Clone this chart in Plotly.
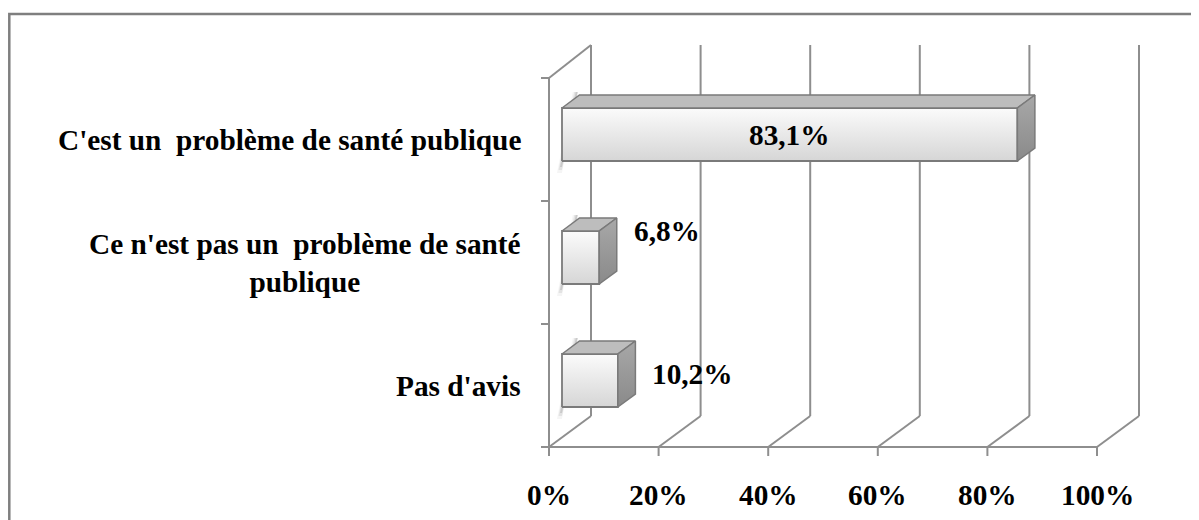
import plotly.graph_objects as go

# ---------------- data ----------------
categories = ["Pas d'avis",
              "Ce n'est pas un\u00a0 problème de santé<br>publique",
              "C'est un\u00a0 problème de santé publique"]
values = [10.2, 6.8, 83.1]
value_labels = ["10,2%", "6,8%", "83,1%"]
tick_values = [0, 20, 40, 60, 80, 100]
tick_labels = ["0%", "20%", "40%", "60%", "80%", "100%"]

# ---------------- geometry (pixel calibration of the oblique 3D look) ----------------
PAGE_OFF = 8                       # default body margin of the html page
W, H = 1199 - PAGE_OFF, 520 - PAGE_OFF
PX0 = 549.0 - PAGE_OFF             # pixel x of 0 %
PXS = 5.48                         # pixels per %
PY_BOTTOM = 447.0 - PAGE_OFF       # pixel y of lower edge of first category band
PY_BAND = 123.0                    # pixels per category band
n = len(categories)

def dx(px):   # pixel distance -> x data units
    return px / PXS

def dy(px):   # pixel distance -> y data units (positive = up)
    return px / PY_BAND

x_range = [-PX0 / PXS, (W - PX0) / PXS]
y_range = [(PY_BOTTOM - H) / PY_BAND - 0.5, PY_BOTTOM / PY_BAND - 0.5]

DEPTH_X, DEPTH_Y = dx(42), dy(31)      # floor/wall depth
FRONT_X, FRONT_Y = dx(13), dy(5)       # bar front-face offset inside the depth
BAR_DX, BAR_DY = dx(17.5), dy(13)      # bar depth
BAR_H = dy(53)                         # bar thickness

GRID = "#8e8e8e"
EDGE = "#7a7a7a"
FONT = dict(family="Liberation Serif", size=29.3, color="black", weight="bold")

fig = go.Figure()
shapes = []

def seg(x0, y0, x1, y1, color=GRID, width=2):
    shapes.append(dict(type="line", xref="x", yref="y", x0=x0, y0=y0, x1=x1, y1=y1,
                       line=dict(color=color, width=width), layer="below"))

y_lo, y_hi = -0.5, n - 0.5
# back wall vertical gridlines + floor diagonals + ticks under front axis
for v in tick_values:
    seg(v + DEPTH_X, y_lo + DEPTH_Y, v + DEPTH_X, y_hi + DEPTH_Y + dy(2))
    seg(v, y_lo, v + DEPTH_X, y_lo + DEPTH_Y)
    seg(v, y_lo, v, y_lo - dy(9))
# front axis line
seg(0, y_lo, 100, y_lo)
# left wall
seg(0, y_lo, 0, y_hi)
seg(0, y_hi, DEPTH_X, y_hi + DEPTH_Y + dy(2))
for k in range(n + 1):
    seg(0, y_lo + k, -dx(8), y_lo + k)

# ---------------- 3D bars ----------------
for i, v in enumerate(values):
    x0 = FRONT_X
    x1 = v + FRONT_X
    yb = i - BAR_H / 2 + FRONT_Y
    yt = i + BAR_H / 2 + FRONT_Y
    # soft shadow on the left side
    for k, a in enumerate([0.04, 0.07, 0.11]):
        off = dx(5 - 1.5 * k)
        fig.add_trace(go.Scatter(
            x=[x0 - off, x0, x0 + BAR_DX * 0.9, x0 + BAR_DX * 0.9 - off, x0 - off],
            y=[yb - dy(12 - 3 * k), yb - dy(12 - 3 * k), yt + BAR_DY + dy(3), yt + BAR_DY + dy(3), yb - dy(12 - 3 * k)],
            mode="lines", fill="toself", fillcolor=f"rgba(0,0,0,{a})",
            line=dict(width=0), hoverinfo="skip", showlegend=False))
    # front face with vertical gradient
    fig.add_trace(go.Scatter(
        x=[x0, x1, x1, x0, x0], y=[yb, yb, yt, yt, yb],
        mode="lines", fill="toself",
        fillgradient=dict(type="vertical", colorscale=[[0, "#d6d6d6"], [1, "#fbfbfb"]]),
        line=dict(color=EDGE, width=1.8), hoverinfo="skip", showlegend=False))
    # top face
    fig.add_trace(go.Scatter(
        x=[x0, x1, x1 + BAR_DX, x0 + BAR_DX, x0],
        y=[yt, yt, yt + BAR_DY, yt + BAR_DY, yt],
        mode="lines", fill="toself", fillcolor="#bdbdbd",
        line=dict(color=EDGE, width=1.5), hoverinfo="skip", showlegend=False))
    # right side face
    fig.add_trace(go.Scatter(
        x=[x1, x1 + BAR_DX, x1 + BAR_DX, x1, x1],
        y=[yb, yb + BAR_DY, yt + BAR_DY, yt, yb],
        mode="lines", fill="toself",
        fillgradient=dict(type="vertical", colorscale=[[0, "#8a8a8a"], [1, "#a8a8a8"]]),
        line=dict(color=EDGE, width=1.5), hoverinfo="skip", showlegend=False))

annotations = []
# category labels
for i, c in enumerate(categories):
    annotations.append(dict(x=-dx(26), y=i, xref="x", yref="y", text=c, showarrow=False,
                            xanchor="right", yanchor="middle", align="center", font=FONT))
# value labels (pixel nudges for the outside labels)
label_dy_px = [-12, -32, 0]
for i, (v, t) in enumerate(zip(values, value_labels)):
    if v > 50:
        annotations.append(dict(x=FRONT_X + v / 2, y=i + FRONT_Y, xref="x", yref="y", text=t,
                                showarrow=False, xanchor="center", yanchor="middle", font=FONT))
    else:
        annotations.append(dict(x=v + FRONT_X + BAR_DX + dx(15), y=i - dy(label_dy_px[i]),
                                xref="x", yref="y", text=t, showarrow=False,
                                xanchor="left", yanchor="middle", font=FONT))
# x tick labels
for v, t in zip(tick_values, tick_labels):
    annotations.append(dict(x=v, y=y_lo - dy(48), xref="x", yref="y", text=t, showarrow=False,
                            xanchor="center", yanchor="middle", font=FONT))

# outer chart border
shapes.append(dict(type="rect", xref="paper", yref="paper",
                   x0=1.3 / W, x1=1.02, y0=-0.05, y1=1 - 6 / H,
                   line=dict(color="#7f7f7f", width=2.5), fillcolor="rgba(0,0,0,0)"))

fig.update_layout(
    width=W, height=H, autosize=False,
    margin=dict(l=0, r=0, t=0, b=0, pad=0),
    paper_bgcolor="white", plot_bgcolor="white",
    xaxis=dict(range=x_range, visible=False, fixedrange=True),
    yaxis=dict(range=y_range, visible=False, fixedrange=True),
    shapes=shapes, annotations=annotations, showlegend=False,
)
fig.write_html("out.html")
